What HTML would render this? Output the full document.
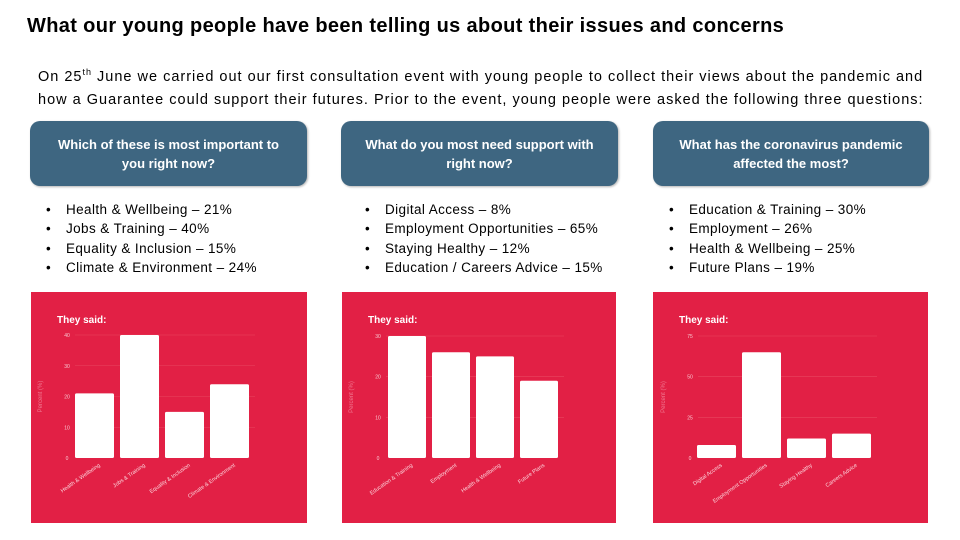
<!DOCTYPE html>
<html><head><meta charset="utf-8"><style>
body{margin:0;width:960px;height:540px;background:#fff;position:relative;overflow:hidden;font-family:"Liberation Sans",sans-serif;color:#000}
.abs{position:absolute}
h1{position:absolute;left:27px;top:15px;margin:0;font-size:20px;font-weight:bold;letter-spacing:0.35px;white-space:nowrap}
.intro{left:38px;top:61px;font-size:14.5px;letter-spacing:1px;line-height:23px;width:900px;white-space:nowrap}
.hdr{background:#3e6681;border-radius:10px;color:#fff;font-size:13px;font-weight:bold;text-align:center;display:flex;align-items:center;justify-content:center;line-height:19px;box-shadow:1px 1px 2px rgba(0,0,0,.3)}
ul{position:absolute;margin:0;padding:0;list-style:none;font-size:13.5px;letter-spacing:0.4px;line-height:19.3px}
li{position:relative;padding-left:20px;white-space:nowrap}
li:before{content:"•";position:absolute;left:0}
svg{position:absolute;left:0;top:0}
</style></head><body>
<h1>What our young people have been telling us about their issues and concerns</h1>
<div class="abs intro">On 25<sup style="font-size:9px">th</sup> June we carried out our first consultation event with young people to collect their views about the pandemic and<br>how a Guarantee could support their futures. Prior to the event, young people were asked the following three questions:</div>
<div class="abs hdr" style="left:30px;top:121px;width:277px;height:65px">Which of these is most important to<br>you right now?</div>
<div class="abs hdr" style="left:341px;top:121px;width:277px;height:65px">What do you most need support with<br>right now?</div>
<div class="abs hdr" style="left:653px;top:121px;width:276px;height:65px">What has the coronavirus pandemic<br>affected the most?</div>
<ul style="left:46px;top:200px"><li>Health &amp; Wellbeing – 21%</li><li>Jobs &amp; Training – 40%</li><li>Equality &amp; Inclusion – 15%</li><li>Climate &amp; Environment – 24%</li></ul>
<ul style="left:365px;top:200px"><li>Digital Access – 8%</li><li>Employment Opportunities – 65%</li><li>Staying Healthy – 12%</li><li>Education / Careers Advice – 15%</li></ul>
<ul style="left:669px;top:200px"><li>Education &amp; Training – 30%</li><li>Employment – 26%</li><li>Health &amp; Wellbeing – 25%</li><li>Future Plans – 19%</li></ul>
<svg id="charts" width="960" height="540"></svg>
<script>
const cats1=["Health & Wellbeing","Jobs & Training","Equality & Inclusion","Climate & Environment"];
const vals1=[21,40,15,24];
const ticks1=[0,10,20,30,40];
const cats2=["Education & Training","Employment","Health & Wellbeing","Future Plans"];
const vals2=[30,26,25,19];
const ticks2=[0,10,20,30];
const cats3=["Digital Access","Employment Opportunities","Staying Healthy","Careers Advice"];
const vals3=[8,65,12,15];
const ticks3=[0,25,50,75];
const NS="http://www.w3.org/2000/svg";
const svg=document.getElementById('charts');
function mk(t,a,p){const e=document.createElementNS(NS,t);for(const k in a)e.setAttribute(k,a[k]);(p||svg).appendChild(e);return e;}
function chart(id,px,pw,cats,vals,ticks,axX,x0,bw,gap,top){
  const g=mk('g',{});
  
  
  const bg=mk('rect',{x:px,y:292,width:pw,height:231,fill:'#e22045'},g);
  
  
  const tt=mk('text',{x:px+26,y:323,fill:'#fff','font-size':10,'font-weight':'bold','font-family':'Liberation Sans, sans-serif'},g);
  tt.textContent='They said:';
  
  
  const base=458, maxT=ticks[ticks.length-1];
  const y=v=>base-(v/maxT)*(base-top);
  ticks.forEach(t=>{
    if(t>0){const l=mk('line',{x1:axX+8,x2:x0+4*(bw+gap),y1:y(t),y2:y(t),stroke:'#e8455f','stroke-width':0.6},g);
      }
    const tx=mk('text',{x:axX,y:y(t)+2,fill:'#f8c8d0','font-size':5,'text-anchor':'middle','font-family':'Liberation Sans, sans-serif'},g);
    tx.textContent=t;
    
    
  });
  const yt=mk('text',{x:axX-25,y:(base+top)/2,fill:'#f07890','font-size':6,'text-anchor':'middle',transform:`rotate(-90 ${axX-25} ${(base+top)/2})`,'font-family':'Liberation Sans, sans-serif'},g);
  yt.textContent='Percent (%)';
  
  
  vals.forEach((v,i)=>{
    const bx=x0+i*(bw+gap);
    const b=mk('rect',{x:bx,y:y(v),width:bw,height:base-y(v),fill:'#fff',rx:1.5},g);
    
    
    const cx=bx+bw/2+6, cy=base+8;
    const lb=mk('text',{x:cx,y:cy,fill:'#fbd5dc','font-size':5.5,'text-anchor':'end',transform:`rotate(-35 ${cx} ${cy})`,'font-family':'Liberation Sans, sans-serif'},g);
    lb.textContent=cats[i];
    
    
  });
}
chart('chart-1',31,276,cats1,vals1,ticks1,67,75,39,6,335);
chart('chart-2',342,274,cats2,vals2,ticks2,378,388,38,6,336);
chart('chart-3',653,275,cats3,vals3,ticks3,690,697,39,6,336);
</script>
</body></html>
